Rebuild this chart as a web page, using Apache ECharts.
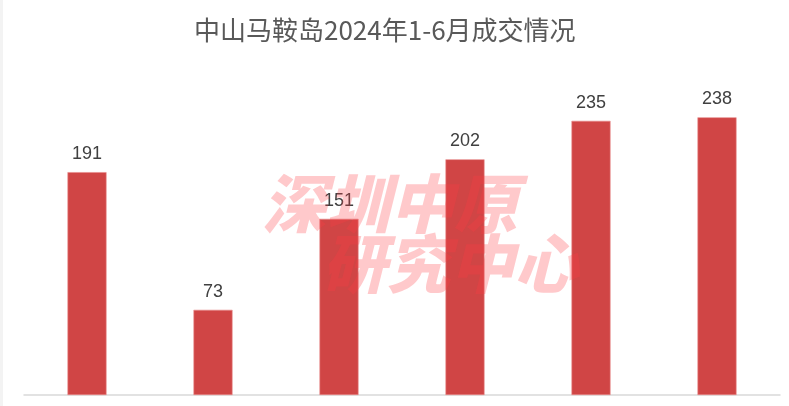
<!DOCTYPE html>
<html><head><meta charset="utf-8">
<script src="https://cdn.jsdelivr.net/npm/echarts@6/dist/echarts.min.js"></script>
<style>html,body{margin:0;padding:0;background:#fff}#c{width:789px;height:406px}</style>
</head><body><div id="c"></div>
<script>
const titleText = '中山马鞍岛2024年1-6月成交情况';
const categories = ['1月','2月','3月','4月','5月','6月'];
const deals = [191, 73, 151, 202, 235, 238];
const watermark1 = '深圳中原';
const watermark2 = '研究中心';

const chart = echarts.init(document.getElementById('c'));
chart.setOption({
  backgroundColor: '#fff',
  animation: false,
  title: {
    text: titleText, left: 189, top: 12,
    textStyle: {fontFamily: 'Noto Sans CJK SC', fontSize: 26, fontWeight: 'normal', color: '#595959'}
  },
  grid: {left: 24, right: 9, top: 45, bottom: 11},
  xAxis: {
    type: 'category', data: categories,
    axisLine: {lineStyle: {color: '#d9d9d9', width: 1.5}},
    axisTick: {show: false}, axisLabel: {show: false}
  },
  yAxis: {type: 'value', min: 0, max: 300, show: false, splitLine: {show: false}},
  series: [{
    type: 'bar', data: deals, barWidth: '31%',
    itemStyle: {color: '#d04545', borderColor: '#e88a8a', borderWidth: 0.6},
    label: {show: true, position: 'top', distance: 9, fontFamily: 'Liberation Sans', fontSize: 18, color: '#404040'}
  }],
  graphic: [
    {type: 'rect', left: 0, top: 0, shape: {width: 3, height: 406}, style: {fill: '#f3f3f3'}, z: 100},
    {type: 'text', x: 262, y: 172, z: 100, style: {text: watermark1, font: 'italic 900 64px "Noto Sans CJK SC"', fill: 'rgba(255,60,70,0.28)'}},
    {type: 'text', x: 322, y: 232, z: 100, style: {text: watermark2, font: 'italic 900 64px "Noto Sans CJK SC"', fill: 'rgba(255,60,70,0.28)'}}
  ]
});
</script></body></html>
